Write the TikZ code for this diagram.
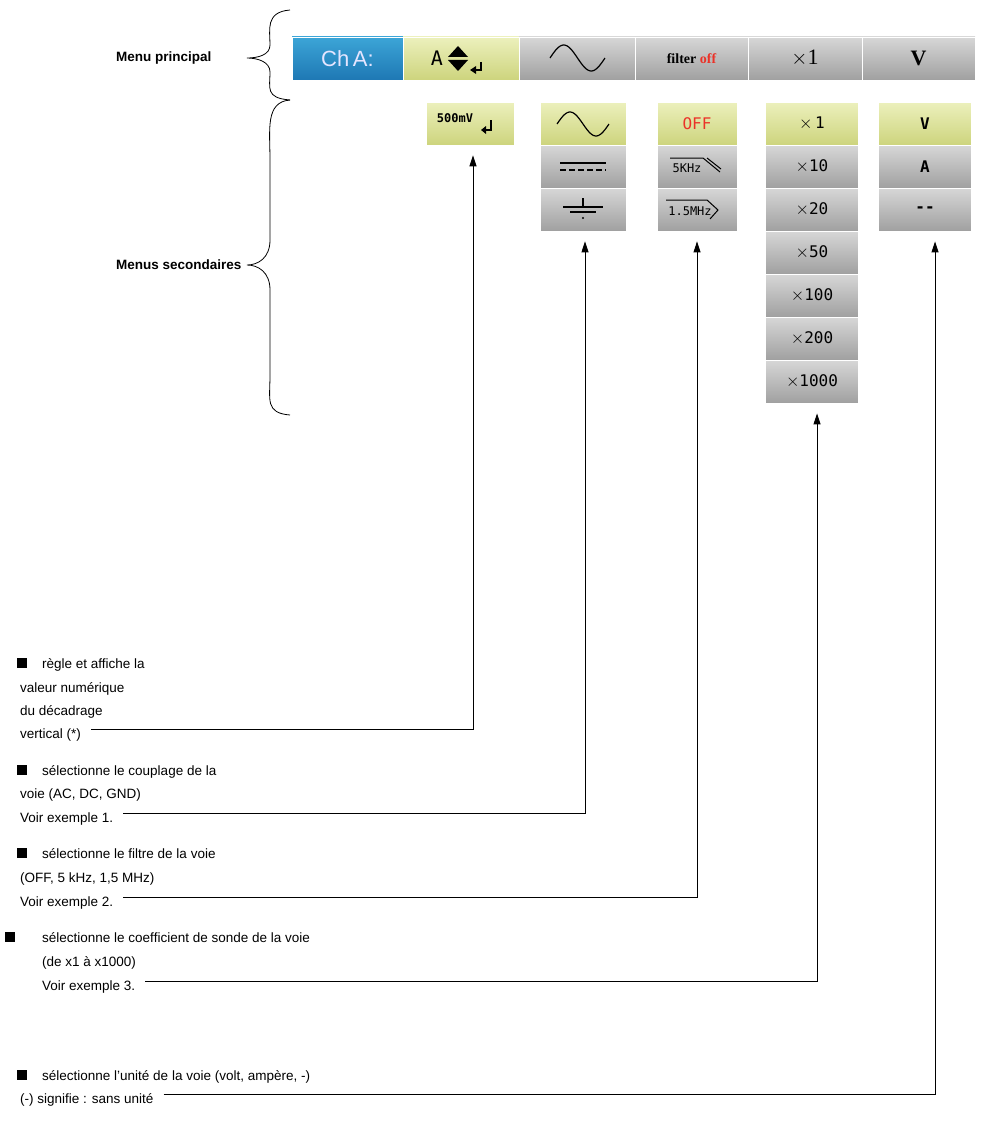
\documentclass[tikz,border=0pt]{standalone}
\usepackage{fontspec}
\setmainfont{Liberation Sans}
\newfontfamily\serifx{Liberation Serif}
\newfontfamily\monox{DejaVu Sans Mono}
\usetikzlibrary{arrows.meta,calc}
\definecolor{yel}{RGB}{228,234,160}
\definecolor{yeld}{RGB}{205,212,125}
\definecolor{grl}{RGB}{215,215,215}
\definecolor{grd}{RGB}{160,160,160}
\definecolor{blu}{RGB}{60,165,215}
\definecolor{blud}{RGB}{30,120,180}
\definecolor{offred}{RGB}{235,50,40}
\begin{document}
\begin{tikzpicture}[x=1pt,y=-1pt,
  cellY/.style={draw=white,line width=0.8pt,top color=yel!70!white,bottom color=yeld,minimum height=43pt,inner sep=0pt,font=\monox\fontsize{16}{16}\selectfont},
  cellG/.style={draw=white,line width=0.8pt,top color=grl,bottom color=grd,minimum height=43pt,inner sep=0pt,font=\monox\fontsize{16}{16}\selectfont},
  cellB/.style={draw=white,line width=0.8pt,top color=blu,bottom color=blud,minimum height=43pt,inner sep=0pt,text=white!90!blue,font=\fontsize{22}{22}\selectfont},
  lbl/.style={anchor=base west,inner sep=0pt,font=\fontsize{13.5}{13.5}\selectfont},
  head/.style={anchor=west,inner sep=0pt,font=\bfseries\fontsize{13.5}{13.5}\selectfont},
  arr/.style={-{Triangle[length=11pt,width=7pt]},line width=1pt},
  brace/.style={line width=0.8pt},
  sq/.style={fill=black,minimum size=10pt,inner sep=0pt}]
\useasboundingbox (0,0) rectangle (982,1148);
% braces
\draw[brace] (290,10) .. controls (265,12) and (270,30) .. (270,45) .. controls (270,55) and (258,58) .. (247,58)
  .. controls (258,58) and (270,62) .. (270,72) .. controls (270,88) and (265,98) .. (290,100);
\draw[brace] (290,100) .. controls (265,102) and (270,130) .. (270,160) -- (270,240) .. controls (270,258) and (258,265) .. (247,265)
  .. controls (258,265) and (270,272) .. (270,290) -- (270,375) .. controls (270,400) and (265,413) .. (290,415);
\node[head] (mp) at (116,58) {Menu principal};
\node[head] (ms) at (116,265) {Menus secondaires};
% top bar
\node[cellB,minimum width=111pt] (m1) at (347.5,58.5) {Ch\,A:};
\node[cellY,minimum width=116pt] (m2) at (461,58.5) {};
\node[cellG,minimum width=116pt] (m3) at (577,58.5) {};
\node[cellG,minimum width=113pt] (m4) at (691.5,58.5) {\serifx\bfseries\fontsize{14}{14}\selectfont filter \textcolor{offred}{off}};
\node[cellG,minimum width=114pt] (m5) at (805,58.5) {\serifx\fontsize{22}{22}\selectfont$\times$1};
\node[cellG,minimum width=113pt] (m6) at (918.5,58.5) {\serifx\bfseries\fontsize{22}{22}\selectfont V};
% A updown icon
\node[font=\monox\fontsize{20}{20}\selectfont,inner sep=0pt] at (437,58) {A};
\fill (458,46) -- (448,57) -- (468,57) -- cycle;
\fill (458,71) -- (448,60) -- (468,60) -- cycle;
\draw[line width=1.5pt] (481,62) -- (481,70) -- (473,70);
\fill (470,70) -- (476,66) -- (476,74) -- cycle;
% sine in top
\draw[line width=1.2pt,smooth,domain=0:1,samples=40] plot ({550+55*\x},{58-13*sin(360*\x)});
% secondary col1
\node[cellY,minimum width=88pt] (s1) at (470,123.5) {};
\node[inner sep=0pt,font=\monox\bfseries\fontsize{12}{12}\selectfont] at (455,118) {500mV};
\draw[line width=1.5pt] (491,120) -- (491,130) -- (484,130);
\fill (481,130) -- (486,126) -- (486,134) -- cycle;
% col2
\node[cellY,minimum width=86pt] (s2a) at (583,123.5) {};
\node[cellG,minimum width=86pt] (s2b) at (583,166.5) {};
\node[cellG,minimum width=86pt] (s2c) at (583,209.5) {};
\draw[line width=1.2pt,smooth,domain=0:1,samples=40] plot ({557+52*\x},{124-12*sin(360*\x)});
\draw[line width=1.2pt] (560,163) -- (606,163);
\draw[line width=1.2pt,dash pattern=on 6pt off 3pt] (560,170) -- (606,170);
\draw[line width=1.2pt] (583,198) -- (583,207) (563,207) -- (603,207) (570,212) -- (596,212);
\fill (583,218) circle (1.2pt);
% col3
\node[cellY,minimum width=80pt,text=offred] (s3a) at (697,123.5) {OFF};
\node[cellG,minimum width=80pt] (s3b) at (697,166.5) {};
\node[cellG,minimum width=80pt] (s3c) at (697,209.5) {};
\node[inner sep=0pt,font=\monox\fontsize{12}{12}\selectfont] at (687,168) {5KHz};
\draw[line width=1pt] (670,158) -- (703,158) -- (720,172) (707,158) -- (721,169);
\node[inner sep=0pt,font=\monox\fontsize{12}{12}\selectfont] at (690,211) {1.5MHz};
\draw[line width=1pt] (666,200) -- (707,200) -- (718,210) -- (710,219);
% col4
\node[cellY,minimum width=93pt] (s4a) at (812,123.5) {$\times$\,1};
\node[cellG,minimum width=93pt] (s4b) at (812,166.5) {$\times$10};
\node[cellG,minimum width=93pt] (s4c) at (812,209.5) {$\times$20};
\node[cellG,minimum width=93pt] (s4d) at (812,252.5) {$\times$50};
\node[cellG,minimum width=93pt] (s4e) at (812,295.5) {$\times$100};
\node[cellG,minimum width=93pt] (s4f) at (812,338.5) {$\times$200};
\node[cellG,minimum width=93pt] (s4g) at (812,381.5) {$\times$1000};
% col5
\node[cellY,minimum width=93pt] (s5a) at (925,123.5) {\bfseries V};
\node[cellG,minimum width=93pt] (s5b) at (925,166.5) {\bfseries A};
\node[cellG,minimum width=93pt] (s5c) at (925,209.5) {\bfseries --};
% texts
\node[sq] (q1) at (22,663) {};
\node[lbl] (t1a) at (42,668) {règle et affiche la};
\node[lbl] (t1b) at (20,692) {valeur numérique};
\node[lbl] (t1c) at (20,715) {du décadrage};
\node[lbl] (t1d) at (20,738) {vertical (*)};
\node[sq] (q2) at (22,770) {};
\node[lbl] (t2a) at (42,775) {sélectionne le couplage de la};
\node[lbl] (t2b) at (20,798) {voie (AC, DC, GND)};
\node[lbl] (t2c) at (20,822) {Voir exemple 1.};
\node[sq] (q3) at (22,853) {};
\node[lbl] (t3a) at (42,858) {sélectionne le filtre de la voie};
\node[lbl] (t3b) at (20,882) {(OFF, 5 kHz, 1,5 MHz)};
\node[lbl] (t3c) at (20,906) {Voir exemple 2.};
\node[sq] (q4) at (10,937) {};
\node[lbl] (t4a) at (42,942) {sélectionne le coefficient de sonde de la voie};
\node[lbl] (t4b) at (42,966) {(de x1 à x1000)};
\node[lbl] (t4c) at (42,990) {Voir exemple 3.};
\node[sq] (q5) at (22,1075) {};
\node[lbl] (t5a) at (42,1080) {sélectionne l'unité de la voie (volt, ampère, -)};
\node[lbl] (t5b) at (20,1103) {(-) signifie : sans unité};
% connectors
\draw[arr] ($(t1d.east)+(10,-5)$) -| ($(s1.south)+(3,10)$);
\draw[arr] ($(t2c.east)+(10,-5)$) -| ($(s2c.south)+(2,10)$);
\draw[arr] ($(t3c.east)+(10,-5)$) -| ($(s3c.south)+(0,10)$);
\draw[arr] ($(t4c.east)+(10,-5)$) -| ($(s4g.south)+(5,10)$);
\draw[arr] ($(t5b.east)+(10,-5)$) -| ($(s5c.south)+(10,10)$);
\end{tikzpicture}
\end{document}
